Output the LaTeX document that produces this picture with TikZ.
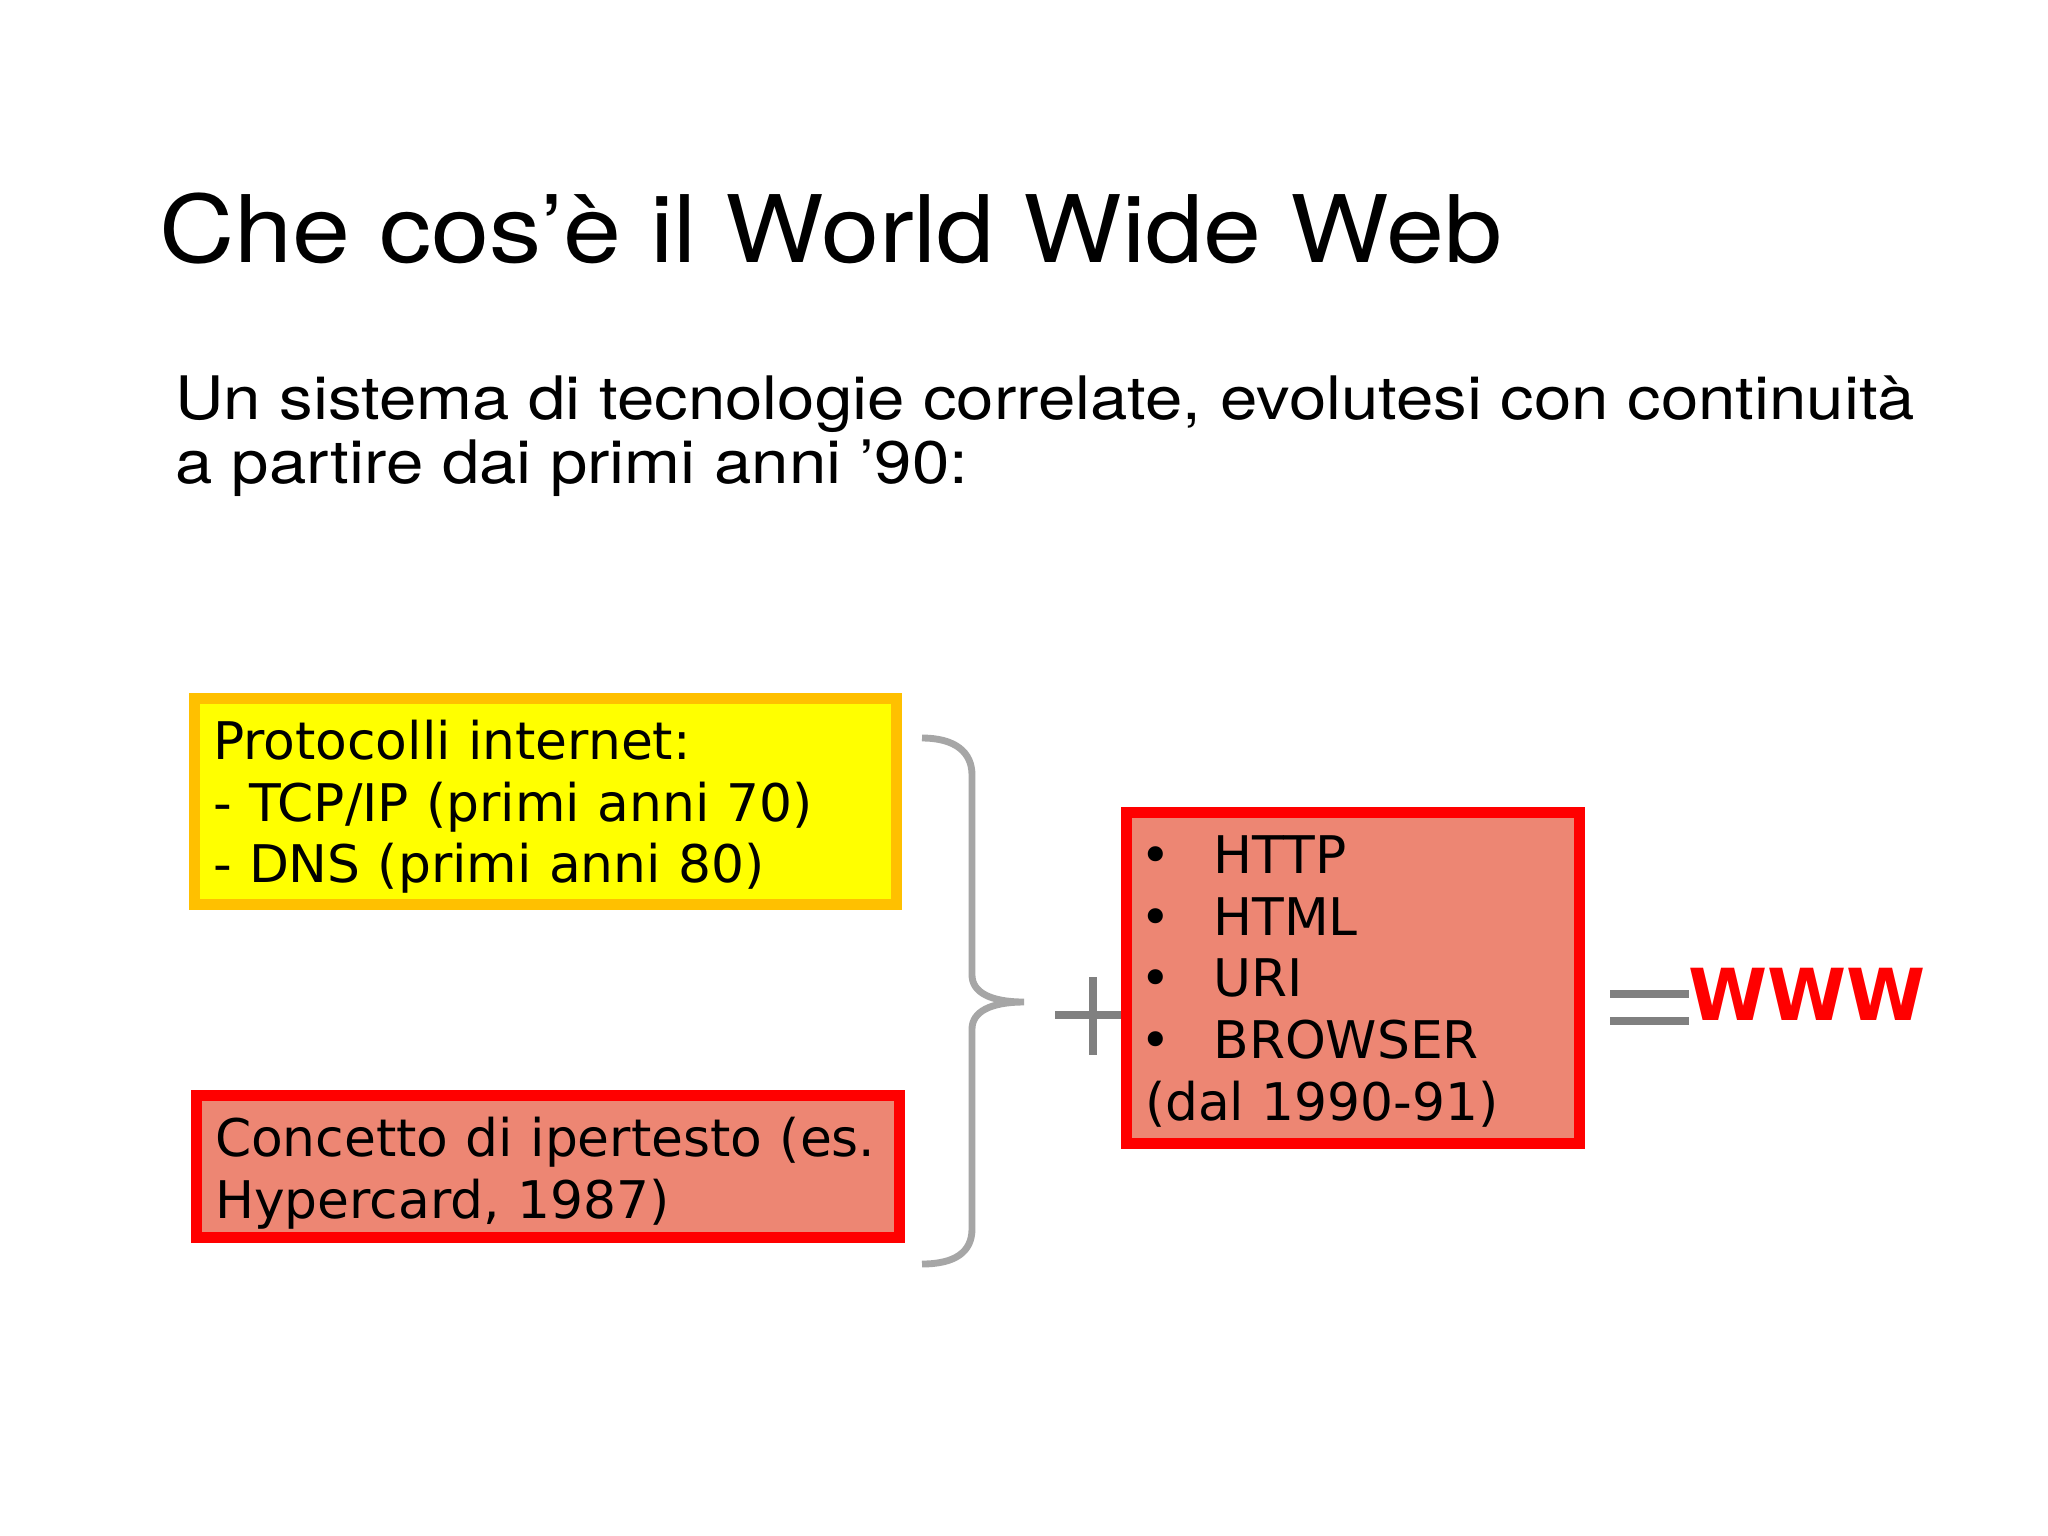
\documentclass[tikz,border=0pt]{standalone}
\usepackage{fontspec}
\usepackage{xcolor}
\usepackage{tikz}
\usetikzlibrary{positioning,calc}
\newfontfamily\slidefont[FakeStretch=1.12]{TeX Gyre Heros}
\newfontfamily\boxfont{DejaVu Sans}
\definecolor{boxgold}{RGB}{255,192,0}
\definecolor{boxyellow}{RGB}{255,255,0}
\definecolor{boxred}{RGB}{255,0,0}
\definecolor{boxsalmon}{RGB}{237,134,115}
\definecolor{bracegray}{RGB}{166,166,166}
\definecolor{signgray}{RGB}{128,128,128}
\newcommand{\techbullet}{\makebox[0.685cm][l]{\hspace*{-0.05cm}•}}

\begin{document}
\begin{tikzpicture}[x=0.01cm, y=-0.01cm,
        heading/.style={anchor=base west, inner sep=0pt, font=\slidefont\fontsize{26.5}{31}\selectfont},
        lead/.style={anchor=base west, inner sep=0pt, align=left, font=\slidefont\fontsize{17.05}{17.93}\selectfont},
        block/.style={rectangle, draw, line width=3.1pt, outer sep=0pt, inner xsep=0.185cm, inner ysep=0pt, align=left, text height=0.61cm, font=\boxfont\fontsize{14.75}{17.55}\selectfont},
        brace/.style={draw=bracegray, line width=1.95pt},
        sign/.style={draw=signgray, line width=2.45pt}]

        \fill[white] (0,0) rectangle (2048,1535);
        \useasboundingbox (0,0) rectangle (2048,1535);

        \node[heading] (title) at (158.5,262) {Che cos’è il World Wide Web};
        \node[lead] (subtitle) at (175,483) {Un sistema di tecnologie correlate, evolutesi con continuità\\a partire dai primi anni ’90:};

        \node[block, draw=boxgold, fill=boxyellow, anchor=north west, text width=6.65cm, text depth=1.45cm] (proto) at (194.5,698.5) {Protocolli internet:\\- TCP/IP (primi anni 70)\\- DNS (primi anni 80)};
        \node[block, draw=boxred, fill=boxsalmon, below=1.91cm of proto, xshift=0.025cm, text width=6.66cm, text depth=0.81cm] (hyper) {Concetto di ipertesto (es.\\Hypercard, 1987)};

        % brace grouping the two boxes
        \draw[brace] (922,738) .. controls (955,738) and (972,752) .. (972,775) -- (972,975)
            .. controls (972,992) and (990,1002) .. (1024,1002)
            .. controls (990,1002) and (972,1012) .. (972,1029) -- (972,1229)
            .. controls (972,1252) and (955,1264) .. (922,1264);

        \draw[sign] (1055,1015) -- (1131,1015) (1093,977) -- (1093,1055); % plus

        \node[block, draw=boxred, fill=boxsalmon, anchor=north west, text width=4.155cm, text depth=2.7cm] (tech) at (1126.5,812.5) {\techbullet HTTP\\\techbullet HTML\\\techbullet URI\\\techbullet BROWSER\\(dal 1990-91)};

        \draw[sign] (1610,994) -- (1689,994) (1610,1021) -- (1689,1021); % equals
        \node[anchor=base west, inner sep=0pt, text=boxred, font=\boxfont\bfseries\fontsize{20.4}{25}\selectfont] (www) at (1688,1020) {WWW};
    \end{tikzpicture}
\end{document}
